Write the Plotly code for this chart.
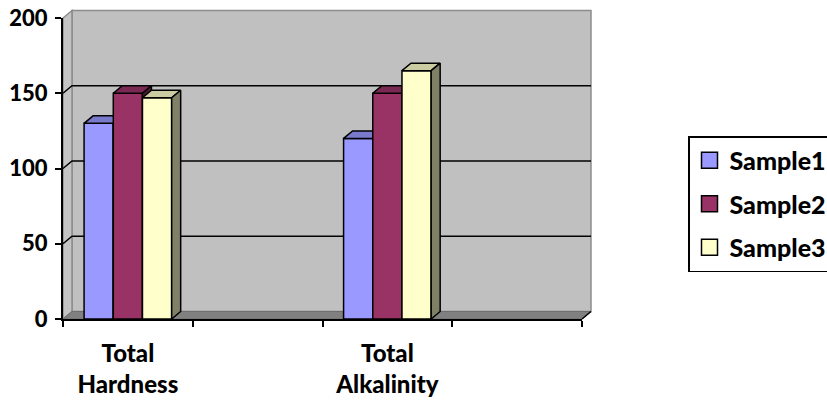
import plotly.graph_objects as go

# ---- data -------------------------------------------------------------
category_pos = [0, 2]                       # slots 1 and 3 of four category slots
category_labels = ["Total<br>Hardness", "Total<br>Alkalinity"]
series_names = ["Sample1", "Sample2", "Sample3"]
sample1 = [130, 120]
sample2 = [150, 150]
sample3 = [147, 165]
y_ticks = [0, 50, 100, 150, 200]

# ---- style ------------------------------------------------------------
front_colors = ["#9999FF", "#993366", "#FFFFCC"]
top_colors = ["#7A7ACC", "#7A2952", "#CCCCA3"]
side_colors = ["#4D4D80", "#4D1A33", "#808066"]
FONT = "Lato"
WEIGHT = 900

W, H = 827, 404
ML, MR, MT, MB = 63, 245, 18, 85
PW, PH = W - ML - MR, H - MT - MB
X_RANGE = [-0.5, 3.5]
Y_RANGE = [0, 200]

# 3-D depth of the walls and bars, in pixels, converted to data units
DEPTH_PX_X, DEPTH_PX_Y = 9.0, 7.5
ddx = DEPTH_PX_X * (X_RANGE[1] - X_RANGE[0]) / PW
ddy = DEPTH_PX_Y * (Y_RANGE[1] - Y_RANGE[0]) / PH

bar_w = 0.225
offsets = [-1.5 * bar_w, -0.5 * bar_w, 0.5 * bar_w]

series_values = [sample1, sample2, sample3]


def px_(x):
    return (x - X_RANGE[0]) / (X_RANGE[1] - X_RANGE[0])


def py_(y):
    return (y - Y_RANGE[0]) / (Y_RANGE[1] - Y_RANGE[0])


def poly(pts):
    d = "M" + " L".join(f"{px_(x):.5f},{py_(y):.5f}" for x, y in pts) + " Z"
    return d


fig = go.Figure()

# one overlaid subplot per series so later series sit in front of earlier ones
for i, (name, vals) in enumerate(zip(series_names, series_values)):
    xa = "x" if i == 0 else f"x{i + 1}"
    ya = "y" if i == 0 else f"y{i + 1}"
    fig.add_trace(go.Bar(
        x=category_pos, y=vals, width=bar_w, offset=offsets[i],
        marker=dict(color=front_colors[i], line=dict(color="black", width=1.5)),
        name=name, showlegend=False, xaxis=xa, yaxis=ya, hoverinfo="skip",
    ))
    # top faces
    tx, ty = [], []
    for c, v in zip(category_pos, vals):
        x0 = c + offsets[i]
        x1 = x0 + bar_w
        tx += [x0, x1, x1 + ddx, x0 + ddx, x0, None]
        ty += [v, v, v + ddy, v + ddy, v, None]
    fig.add_trace(go.Scatter(
        x=tx, y=ty, mode="lines", fill="toself", fillcolor=top_colors[i],
        line=dict(color="black", width=1.5), showlegend=False,
        xaxis=xa, yaxis=ya, hoverinfo="skip",
    ))
    # right side faces
    sx, sy = [], []
    for c, v in zip(category_pos, vals):
        x1 = c + offsets[i] + bar_w
        sx += [x1, x1 + ddx, x1 + ddx, x1, x1, None]
        sy += [0, ddy, v + ddy, v, 0, None]
    fig.add_trace(go.Scatter(
        x=sx, y=sy, mode="lines", fill="toself", fillcolor=side_colors[i],
        line=dict(color="black", width=1.5), showlegend=False,
        xaxis=xa, yaxis=ya, hoverinfo="skip",
    ))

# legend entries
for i, name in enumerate(series_names):
    fig.add_trace(go.Scatter(
        x=[None], y=[None], mode="markers", name=name, legendgroup=name,
        marker=dict(symbol="square", size=16, color=front_colors[i],
                    line=dict(color="black", width=1.5)),
    ))

# ---- walls, floor and back-wall gridlines ------------------------------
xl, xr = X_RANGE
yb, yt = Y_RANGE
shapes = []
# back wall
shapes.append(dict(type="path", xref="paper", yref="paper", layer="below",
                   path=poly([(xl + ddx, yb + ddy), (xr + ddx, yb + ddy),
                              (xr + ddx, yt + ddy), (xl + ddx, yt + ddy)]),
                   fillcolor="#C0C0C0", line=dict(color="#8C8C8C", width=1.5)))
# left side wall
shapes.append(dict(type="path", xref="paper", yref="paper", layer="below",
                   path=poly([(xl, yb), (xl + ddx, yb + ddy),
                              (xl + ddx, yt + ddy), (xl, yt)]),
                   fillcolor="#C4C4C4", line=dict(color="#8C8C8C", width=1.5)))
# floor
shapes.append(dict(type="path", xref="paper", yref="paper", layer="below",
                   path=poly([(xl, yb), (xr, yb), (xr + ddx, yb + ddy),
                              (xl + ddx, yb + ddy)]),
                   fillcolor="#808080", line=dict(color="#6E6E6E", width=1)))
# floor front-right edge
shapes.append(dict(type="line", xref="paper", yref="paper", layer="below",
                   x0=px_(xr), y0=py_(yb), x1=px_(xr + ddx), y1=py_(yb + ddy),
                   line=dict(color="black", width=1.5)))
# gridlines across the side wall and back wall
for t in y_ticks[1:-1]:
    shapes.append(dict(type="path", xref="paper", yref="paper", layer="below",
                       path=f"M{px_(xl):.5f},{py_(t):.5f} "
                            f"L{px_(xl + ddx):.5f},{py_(t + ddy):.5f} "
                            f"L{px_(xr + ddx):.5f},{py_(t + ddy):.5f}",
                       line=dict(color="black", width=1.5)))

axis_common = dict(showgrid=False, zeroline=False)
hidden = dict(visible=False, showgrid=False, zeroline=False)

fig.update_layout(
    width=W, height=H,
    margin=dict(l=ML, r=MR, t=MT, b=MB, pad=0, autoexpand=False),
    paper_bgcolor="white", plot_bgcolor="rgba(0,0,0,0)",
    font=dict(family=FONT, color="black"),
    barmode="overlay",
    shapes=shapes,
    xaxis=dict(range=X_RANGE, tickvals=category_pos, ticktext=category_labels,
               ticks="", showline=True, linecolor="black", linewidth=2,
               ticklabelstandoff=12,
               tickfont=dict(family=FONT, size=24, weight=WEIGHT, color="black"),
               minor=dict(tickvals=[-0.5, 0.5, 1.5, 2.5, 3.5], ticks="outside",
                          ticklen=6, tickwidth=2, tickcolor="black"),
               **axis_common),
    yaxis=dict(range=Y_RANGE, tickvals=y_ticks, ticks="outside", ticklen=6,
               tickwidth=2, tickcolor="black", showline=True,
               linecolor="black", linewidth=2, ticklabelstandoff=3,
               tickfont=dict(family=FONT, size=22, weight=WEIGHT, color="black"),
               **axis_common),
    xaxis2=dict(range=X_RANGE, overlaying="x", **hidden),
    yaxis2=dict(range=Y_RANGE, overlaying="y", **hidden),
    xaxis3=dict(range=X_RANGE, overlaying="x", **hidden),
    yaxis3=dict(range=Y_RANGE, overlaying="y", **hidden),
    legend=dict(x=(688 - ML) / PW, y=(H - MB - 136) / PH, xanchor="left",
                yanchor="top", bgcolor="white", bordercolor="black",
                borderwidth=1.5, traceorder="grouped", tracegroupgap=8,
                font=dict(family=FONT, size=25, weight=WEIGHT, color="black")),
    showlegend=True,
)

fig.write_html("out.html")
